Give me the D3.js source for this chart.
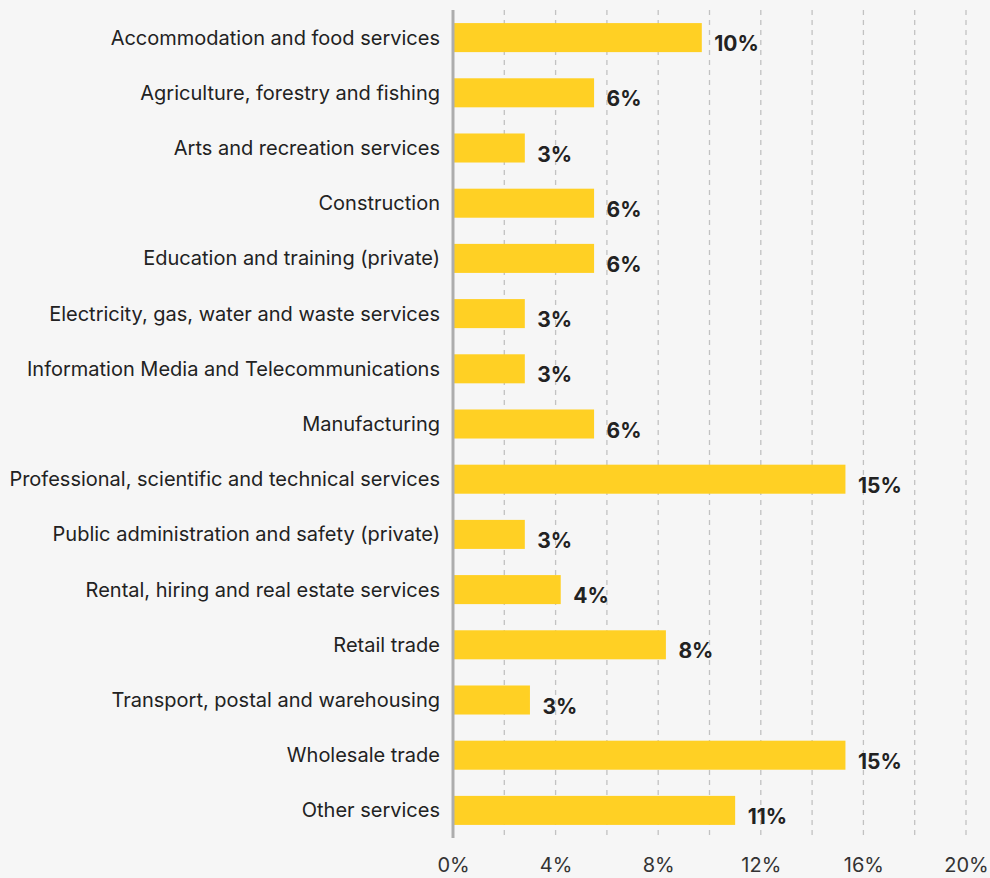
<!DOCTYPE html>
<html>
<head>
<meta charset="utf-8">
<script src="https://cdn.jsdelivr.net/npm/d3@7"></script>
<style>
  html, body { margin: 0; padding: 0; background: #f6f6f6; }
  svg { display: block; }
</style>
</head>
<body>
<svg id="chart" width="990" height="878"></svg>
<script>
// Share of businesses by industry (%)
const industries = [
  "Accommodation and food services",
  "Agriculture, forestry and fishing",
  "Arts and recreation services",
  "Construction",
  "Education and training (private)",
  "Electricity, gas, water and waste services",
  "Information Media and Telecommunications",
  "Manufacturing",
  "Professional, scientific and technical services",
  "Public administration and safety (private)",
  "Rental, hiring and real estate services",
  "Retail trade",
  "Transport, postal and warehousing",
  "Wholesale trade",
  "Other services"
];
const shares = [9.7, 5.5, 2.8, 5.5, 5.5, 2.8, 2.8, 5.5, 15.3, 2.8, 4.2, 8.3, 3.0, 15.3, 11.0];
const tickValues = [0, 4, 8, 12, 16, 20];
const gridValues = [2, 4, 6, 8, 10, 12, 14, 16, 18, 20];

const data = industries.map((name, i) => ({ name, value: shares[i] }));

const svg = d3.select("#chart");
const plotTop = 10, plotBottom = 838;

const x = d3.scaleLinear().domain([0, 20]).range([453, 966]);
const y = d3.scaleBand()
  .domain(industries)
  .range([plotTop, plotBottom])
  .paddingInner(0.474)
  .paddingOuter(0.237);

// dashed vertical gridlines
svg.append("g")
  .selectAll("line")
  .data(gridValues)
  .join("line")
  .attr("x1", d => x(d)).attr("x2", d => x(d))
  .attr("y1", plotTop).attr("y2", plotBottom)
  .attr("stroke", "#c2c2c2")
  .attr("stroke-width", 1.3)
  .attr("stroke-dasharray", "5,5");

// bars
svg.append("g")
  .selectAll("rect")
  .data(data)
  .join("rect")
  .attr("x", x(0))
  .attr("y", d => y(d.name))
  .attr("width", d => x(d.value) - x(0))
  .attr("height", y.bandwidth())
  .attr("fill", "#ffd024");

// baseline
svg.append("line")
  .attr("x1", x(0)).attr("x2", x(0))
  .attr("y1", plotTop).attr("y2", plotBottom)
  .attr("stroke", "#adadad")
  .attr("stroke-width", 3);

// value labels
svg.append("g")
  .selectAll("text")
  .data(data)
  .join("text")
  .attr("x", d => x(d.value) + 12.5)
  .attr("y", d => y(d.name) + y.bandwidth() - 1)
  .attr("font-family", "Inter, 'Noto Sans', sans-serif")
  .attr("font-weight", 700)
  .attr("font-size", 21)
  .attr("fill", "#222")
  .text(d => Math.round(d.value) + "%");

// category labels
svg.append("g")
  .selectAll("text")
  .data(data)
  .join("text")
  .attr("x", 440)
  .attr("y", d => y(d.name) + y.bandwidth() / 2)
  .attr("dy", "0.35em")
  .attr("text-anchor", "end")
  .attr("font-family", "Inter, 'Noto Sans', sans-serif")
  .attr("font-size", 20)
  .attr("fill", "#222")
  .text(d => d.name);

// x axis labels
const xAxis = d3.axisBottom(x)
  .tickValues(tickValues)
  .tickFormat(d => d + "%")
  .tickSize(0)
  .tickPadding(0);

const gx = svg.append("g")
  .attr("transform", `translate(0, 866)`)
  .call(xAxis);
gx.select(".domain").remove();
gx.selectAll("text")
  .attr("dy", "0.32em")
  .attr("font-family", "Inter, 'Noto Sans', sans-serif")
  .attr("font-size", 20)
  .attr("fill", "#333");
</script>
</body>
</html>
